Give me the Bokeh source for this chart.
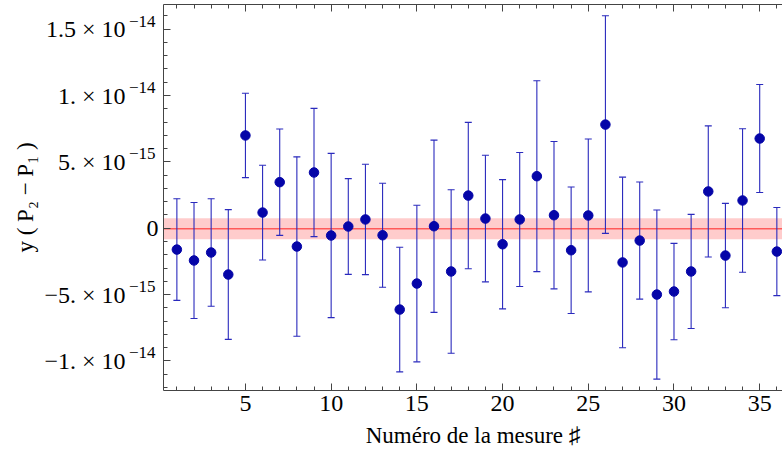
from bokeh.plotting import figure
from bokeh.models import (ColumnDataSource, Whisker, TeeHead, BoxAnnotation, Span,
                          FixedTicker, LinearAxis, Range1d, CustomLabelingPolicy)
from bokeh.embed import file_html
from bokeh.resources import INLINE

# ---- data (values in units of 1e-15) ----
mesure = list(range(1, 37))
y_1e15 = [-1.61, -2.43, -1.83, -3.49, 6.99, 1.18, 3.47, -1.38, 4.20, -0.55,
          0.13, 0.66, -0.53, -6.13, -4.17, 0.15, -3.26, 2.46, 0.73, -1.21,
          0.66, 3.92, 0.98, -1.66, 0.96, 7.81, -2.58, -0.93, -5.00, -4.77,
          -3.26, 2.77, -2.06, 2.09, 6.76, -1.76]
err_1e15 = [3.83, 4.37, 4.05, 4.89, 3.18, 3.57, 4.01, 6.76, 4.83, 6.19,
            3.61, 4.16, 3.92, 4.70, 5.90, 6.49, 6.16, 5.52, 4.77, 4.87,
            5.05, 7.19, 5.55, 4.77, 5.76, 8.20, 6.43, 4.41, 6.37, 3.63,
            4.30, 4.94, 3.93, 5.41, 4.07, 3.32]
mean_1e15 = -0.04
band_half_1e15 = 0.79

x_ticks = [5, 10, 15, 20, 25, 30, 35]
y_ticks = [-10, -5, 0, 5, 10, 15]
exp_ticks = [-10, -5, 5, 10, 15]
mant_labels = ["−1. × 10", "−5. × 10", "5. × 10", "1. × 10", "1.5 × 10"]
exp_labels = ["−14", "−15", "−15", "−14", "−14"]
zero_label = "0"

X_MIN, X_MAX = 0.22, 36.33
Y_MIN, Y_MAX = -12.23, 16.86
EXP_SHIFT = 0.6   # raise exponents by a few pixels

FONT = "Liberation Serif"
axis_col = "#444444"

src = ColumnDataSource(dict(
    x=mesure,
    y=y_1e15,
    upper=[v + e for v, e in zip(y_1e15, err_1e15)],
    lower=[v - e for v, e in zip(y_1e15, err_1e15)],
))

p = figure(width=782, height=457, output_backend="svg", toolbar_location=None,
           x_range=Range1d(X_MIN, X_MAX), y_range=Range1d(Y_MIN, Y_MAX),
           min_border_left=163, min_border_right=0, min_border_top=4,
           min_border_bottom=67, background_fill_color="white",
           border_fill_color="white")
p.extra_y_ranges = {"exp": Range1d(Y_MIN - EXP_SHIFT, Y_MAX - EXP_SHIFT)}
p.outline_line_color = None
p.grid.visible = False

band = BoxAnnotation(bottom=mean_1e15 - band_half_1e15, top=mean_1e15 + band_half_1e15,
                     fill_color="#ffcccc", fill_alpha=1.0, line_color=None, level="underlay")
p.add_layout(band)
p.add_layout(Span(location=mean_1e15, dimension="width", line_color="#ff5a5a",
                  line_width=1.6, level="underlay"))

bar_col = "#2a2abd"
wh = Whisker(source=src, base="x", upper="upper", lower="lower", dimension="height",
             line_color=bar_col, line_width=1.1,
             upper_head=TeeHead(size=7, line_color=bar_col, line_width=1.1),
             lower_head=TeeHead(size=7, line_color=bar_col, line_width=1.1))
p.add_layout(wh)

p.scatter("x", "y", source=src, size=9.5, fill_color="#0505a8", line_color="#0505a8")

tick_style = dict(major_tick_in=7, major_tick_out=0, minor_tick_in=4, minor_tick_out=0,
                  axis_line_color=axis_col, major_tick_line_color=axis_col,
                  minor_tick_line_color=axis_col)
hidden_line = dict(axis_line_color=None, major_tick_line_color=None,
                   minor_tick_line_color=None, major_tick_in=0, major_tick_out=0,
                   minor_tick_in=0, minor_tick_out=0)

# bottom axis
xa = p.xaxis[0]
xa.ticker = FixedTicker(ticks=x_ticks, minor_ticks=list(range(0, 38)))
xa.axis_label = "Numéro de la mesure ♯"
xa.major_label_text_font_size = "24px"
xa.axis_label_text_font_size = "23px"
xa.axis_label_standoff = 9
for k, v in tick_style.items():
    setattr(xa, k, v)
xa.major_label_text_font = FONT
xa.major_label_text_color = "black"
xa.axis_label_text_font = FONT
xa.axis_label_text_font_style = "normal"
xa.axis_label_text_color = "black"

# left, innermost: tick marks at the frame edge + the "0" label only
zero_idx = y_ticks.index(0)
tick_axis = LinearAxis(
    ticker=FixedTicker(ticks=y_ticks, minor_ticks=list(range(-13, 18))),
    major_label_overrides={t: (zero_label if t == 0 else "") for t in y_ticks},
    major_label_policy=CustomLabelingPolicy(code="return [%d]" % zero_idx),
    major_label_text_font=FONT, major_label_text_font_size="24px",
    major_label_text_color="black", major_label_standoff=5, **tick_style)

# exponents (slightly raised through a shifted range)
exp_axis = LinearAxis(y_range_name="exp", ticker=FixedTicker(ticks=exp_ticks, minor_ticks=[]),
                      major_label_overrides={t: l for t, l in zip(exp_ticks, exp_labels)},
                      major_label_text_font=FONT, major_label_text_font_size="17px",
                      major_label_text_color="black", major_label_standoff=-12,
                      **hidden_line)

# mantissas + title
yax = p.yaxis[0]
yax.ticker = FixedTicker(ticks=exp_ticks, minor_ticks=[])
yax.major_label_overrides = {t: l for t, l in zip(exp_ticks, mant_labels)}
yax.major_label_standoff = 0
yax.major_label_text_font = FONT
yax.major_label_text_font_size = "24px"
yax.major_label_text_color = "black"
for k, v in hidden_line.items():
    setattr(yax, k, v)
yax.axis_label = "y ( P₂ − P₁ )"
yax.axis_label_text_font = FONT
yax.axis_label_text_font_size = "23px"
yax.axis_label_text_font_style = "normal"
yax.axis_label_text_color = "black"
yax.axis_label_standoff = 3

p.left = [tick_axis, exp_axis, yax]

# top axis (ticks only)
top = LinearAxis(ticker=FixedTicker(ticks=x_ticks, minor_ticks=list(range(0, 38))),
                 major_label_text_font_size="0px", major_label_standoff=0,
                 major_label_policy=CustomLabelingPolicy(code="return new Set()"),
                 **tick_style)
p.add_layout(top, "above")

open("out.html", "w").write(file_html(p, INLINE))
